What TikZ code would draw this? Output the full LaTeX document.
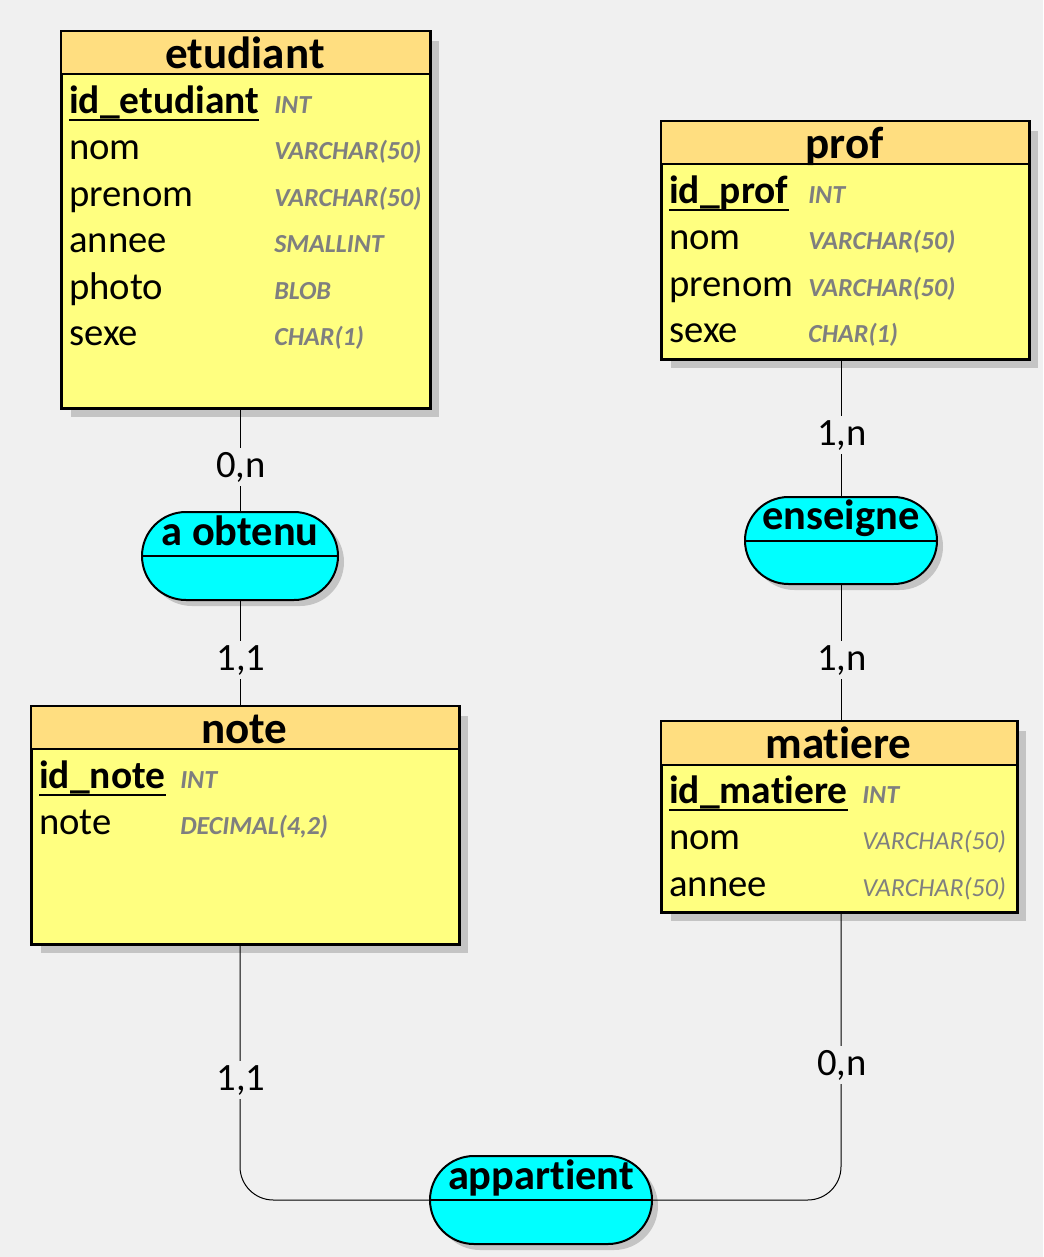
\documentclass[tikz,border=0pt]{standalone}
\usepackage{fontspec}
\setmainfont{Carlito}[Ligatures=NoCommon]
\usetikzlibrary{shapes.misc,shadows}
\definecolor{bg}{HTML}{F0F0F0}
\definecolor{hdrc}{HTML}{FFDE80}
\definecolor{bodyc}{HTML}{FFFF80}
\definecolor{relc}{HTML}{00FFFF}
\definecolor{shadc}{HTML}{C4C4C4}
\definecolor{typec}{HTML}{7F7F7F}
\tikzset{
  entbox/.style={rectangle, anchor=north west, draw=black, line width=1.5pt, fill=bodyc, inner sep=0pt,
    drop shadow={shadow xshift=6.75pt, shadow yshift=-6.75pt, opacity=1, fill=shadc}},
  hdrline/.style={line width=1.5pt},
  ttl/.style={anchor=base, inner sep=0pt, font=\fontsize{33.8}{40}\selectfont\bfseries},
  attr/.style={anchor=base west, inner sep=0pt, font=\fontsize{29}{34}\selectfont},
  keyattr/.style={anchor=base west, inner sep=0pt, font=\fontsize{29.6}{34}\selectfont\bfseries},
  typ/.style={anchor=base west, inner sep=0pt, text=typec, font=\fontsize{19.5}{23}\selectfont\bfseries\itshape},
  typr/.style={anchor=base west, inner sep=0pt, text=typec, font=\fontsize{19.5}{23}\selectfont\itshape},
  relbox/.style={rounded rectangle, draw=black, line width=1.5pt, fill=relc, inner sep=0pt,
    drop shadow={shadow xshift=4.5pt, shadow yshift=-4.5pt, opacity=1, fill=shadc}},
  relname/.style={anchor=base, inner sep=0pt, font=\fontsize{31.8}{38}\selectfont\bfseries},
  conn/.style={line width=0.75pt, draw=black},
  card/.style={anchor=base, fill=bg, inner xsep=1pt, inner ysep=3pt, font=\fontsize{29}{34}\selectfont},
}
\begin{document}
\begin{tikzpicture}[x=0.75pt, y=-0.75pt]
\fill[bg] (0,0) rectangle (1043,1257);
\useasboundingbox (0,0) rectangle (1043,1257);

% ---------- relationships (shapes) ----------
\node[relbox, minimum width=196*0.75pt, minimum height=88*0.75pt] (aobtenu) at (240,556) {};
\node[relbox, minimum width=192*0.75pt, minimum height=87*0.75pt] (enseigne) at (841,540.5) {};
\node[relbox, minimum width=222*0.75pt, minimum height=88*0.75pt] (appartient) at (541,1200) {};

% ---------- entities ----------
% etudiant
\node[entbox, minimum width=368*0.75pt, minimum height=376*0.75pt] (etudiant) at (61,31) {};
\fill[hdrc] (61,31) rectangle (429,74);
\draw[hdrline] (61,74) -- (429,74);
\draw[line width=1.5pt] (etudiant.north west) rectangle (etudiant.south east);
\node[ttl] (etudiant-t) at (245,68) {etudiant};
\node[keyattr] (etudiant-k) at (69,113) {id\_etudiant};
\draw[line width=1.5pt] ([yshift=-5.5pt]etudiant-k.base west) -- ([yshift=-5.5pt]etudiant-k.base east);
\node[typ] (etudiant-k-t) at (274,113) {INT};
\node[attr] (etudiant-a1) at (69,159.5) {nom};
\node[typ] (etudiant-a1-t) at (274,159.5) {VARCHAR(50)};
\node[attr] (etudiant-a2) at (69,206) {prenom};
\node[typ] (etudiant-a2-t) at (274,206) {VARCHAR(50)};
\node[attr] (etudiant-a3) at (69,252.5) {annee};
\node[typ] (etudiant-a3-t) at (274,252.5) {SMALLINT};
\node[attr] (etudiant-a4) at (69,299) {photo};
\node[typ] (etudiant-a4-t) at (274,299) {BLOB};
\node[attr] (etudiant-a5) at (69,345.5) {sexe};
\node[typ] (etudiant-a5-t) at (274,345.5) {CHAR(1)};

% prof
\node[entbox, minimum width=367*0.75pt, minimum height=237*0.75pt] (prof) at (661,121) {};
\fill[hdrc] (661,121) rectangle (1028,164);
\draw[hdrline] (661,164) -- (1028,164);
\draw[line width=1.5pt] (prof.north west) rectangle (prof.south east);
\node[ttl] (prof-t) at (844.5,158) {prof};
\node[keyattr] (prof-k) at (669,203) {id\_prof};
\draw[line width=1.5pt] ([yshift=-5.5pt]prof-k.base west) -- ([yshift=-5.5pt]prof-k.base east);
\node[typ] (prof-k-t) at (808,203) {INT};
\node[attr] (prof-a1) at (669,249.5) {nom};
\node[typ] (prof-a1-t) at (808,249.5) {VARCHAR(50)};
\node[attr] (prof-a2) at (669,296) {prenom};
\node[typ] (prof-a2-t) at (808,296) {VARCHAR(50)};
\node[attr] (prof-a3) at (669,342.5) {sexe};
\node[typ] (prof-a3-t) at (808,342.5) {CHAR(1)};

% note
\node[entbox, minimum width=427*0.75pt, minimum height=237*0.75pt] (note) at (31,706) {};
\fill[hdrc] (31,706) rectangle (458,749);
\draw[hdrline] (31,749) -- (458,749);
\draw[line width=1.5pt] (note.north west) rectangle (note.south east);
\node[ttl] (note-t) at (244.5,743) {note};
\node[keyattr] (note-k) at (39,788) {id\_note};
\draw[line width=1.5pt] ([yshift=-5.5pt]note-k.base west) -- ([yshift=-5.5pt]note-k.base east);
\node[typ] (note-k-t) at (180,788) {INT};
\node[attr] (note-a1) at (39,834.5) {note};
\node[typ] (note-a1-t) at (180,834.5) {DECIMAL(4,2)};

% matiere
\node[entbox, minimum width=355*0.75pt, minimum height=190*0.75pt] (matiere) at (661,721) {};
\fill[hdrc] (661,721) rectangle (1016,765);
\draw[hdrline] (661,765) -- (1016,765);
\draw[line width=1.5pt] (matiere.north west) rectangle (matiere.south east);
\node[ttl] (matiere-t) at (838.5,758) {matiere};
\node[keyattr] (matiere-k) at (669,803) {id\_matiere};
\draw[line width=1.5pt] ([yshift=-5.5pt]matiere-k.base west) -- ([yshift=-5.5pt]matiere-k.base east);
\node[typ] (matiere-k-t) at (862,803) {INT};
\node[attr] (matiere-a1) at (669,849.5) {nom};
\node[typr] (matiere-a1-t) at (862,849.5) {VARCHAR(50)};
\node[attr] (matiere-a2) at (669,896) {annee};
\node[typr] (matiere-a2-t) at (862,896) {VARCHAR(50)};

% ---------- relationship names and middle lines ----------
\draw[line width=1.5pt] (aobtenu.west) -- (aobtenu.east);
\node[relname] (aobtenu-t) at (240,545) {a obtenu};
\draw[line width=1.5pt] (enseigne.west) -- (enseigne.east);
\node[relname] (enseigne-t) at (841,529) {enseigne};
\draw[line width=1.5pt] (appartient.west) -- (appartient.east);
\node[relname] (appartient-t) at (541,1189) {appartient};

% ---------- connectors ----------
\draw[conn] (aobtenu.north) -- (aobtenu.north |- etudiant.south);
\draw[conn] (aobtenu.south) -- (aobtenu.south |- note.north);
\draw[conn] (enseigne.north) -- (enseigne.north |- prof.south);
\draw[conn] (enseigne.south) -- (enseigne.south |- matiere.north);
\draw[conn, rounded corners=25pt] (appartient.west) -| (aobtenu.south |- note.south);
\draw[conn, rounded corners=25pt] (appartient.east) -| (enseigne.south |- matiere.south);

% ---------- cardinalities ----------
\node[card] (c1) at (241,477) {0,n};
\node[card] (c2) at (241,670) {1,1};
\node[card] (c3) at (842,445) {1,n};
\node[card] (c4) at (842,670) {1,n};
\node[card] (c5) at (241,1090) {1,1};
\node[card] (c6) at (842,1075) {0,n};
\end{tikzpicture}
\end{document}
